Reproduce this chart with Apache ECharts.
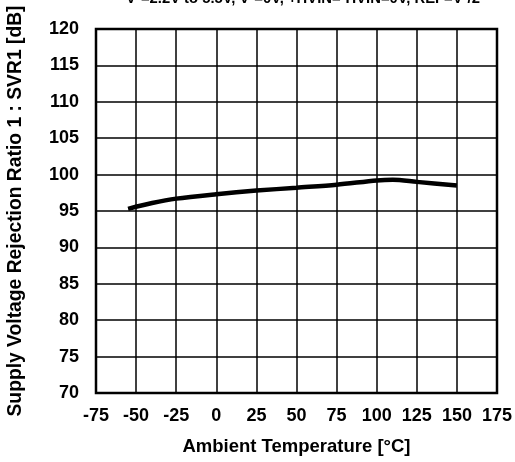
<!DOCTYPE html>
<html><head><meta charset="utf-8">
<script src="https://cdn.jsdelivr.net/npm/echarts@6/dist/echarts.min.js"></script>
<style>html,body{margin:0;padding:0;background:#fff}#c{width:515px;height:462px}</style>
</head><body><div id="c"></div>
<script>
const temps = [-55, -40, -25, 0, 25, 50, 75, 100, 110, 125, 150];
const svr1 = [95.3, 96.1, 96.7, 97.3, 97.8, 98.2, 98.6, 99.2, 99.3, 99.0, 98.5];
const titleText = 'V\u207A=2.2V to 5.5V, V\u207B=0V, +HVIN=-HVIN=0V, REF=V\u207A/2';
const chart = echarts.init(document.getElementById('c'));
const font = 'Liberation Sans, Arial, sans-serif';
chart.setOption({
  animation: false,
  title: {text: titleText, left: 298, top: -14, textAlign: 'center',
    textStyle: {fontFamily: font, fontSize: 14.8, fontWeight: 'bold', color: '#000'}},
  grid: {left: 96, right: 18, top: 29, bottom: 69, show: true, borderColor: '#000', borderWidth: 2.5,
    containLabel: false, outerBoundsMode: 'none'},
  xAxis: {type: 'value', min: -75, max: 175, interval: 25,
    name: 'Ambient Temperature [°C]', nameLocation: 'middle', nameGap: 44,
    nameTextStyle: {fontFamily: font, fontSize: 18.5, fontWeight: 'bold', color: '#000'},
    axisLine: {show: false}, axisTick: {show: false},
    axisLabel: {fontFamily: font, fontSize: 18, fontWeight: 'bold', color: '#000', margin: 14},
    splitLine: {lineStyle: {color: '#000', width: 1.5}}},
  yAxis: {type: 'value', min: 70, max: 120, interval: 5,
    name: 'Supply Voltage Rejection Ratio 1 : SVR1 [dB]', nameLocation: 'middle', nameGap: 71,
    nameTextStyle: {fontFamily: font, fontSize: 19.3, fontWeight: 'bold', color: '#000'},
    axisLine: {show: false}, axisTick: {show: false},
    axisLabel: {fontFamily: font, fontSize: 18, fontWeight: 'bold', color: '#000', margin: 17},
    splitLine: {lineStyle: {color: '#000', width: 1.5}}},
  series: [
    {type: 'line', data: temps.map((t, i) => [t, svr1[i]]), smooth: 0.3, showSymbol: false,
      lineStyle: {color: '#000', width: 4.5}}
  ]
});
</script></body></html>
